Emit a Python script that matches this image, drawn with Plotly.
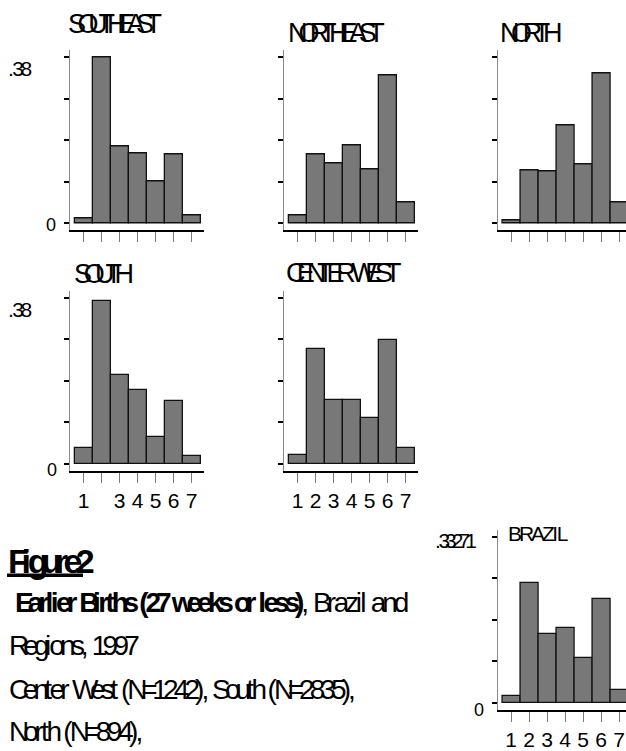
import plotly.graph_objects as go

# ---- data: share of earlier births by week-of-gestation class ----
weeks = [1, 2, 3, 4, 5, 6, 7]
week_labels = ["1", "2", "3", "4", "5", "6", "7"]
south_week_labels = ["1", "", "3", "4", "5", "6", "7"]
blank_labels = ["", "", "", "", "", "", ""]

southeast = [0.012, 0.380, 0.176, 0.160, 0.095, 0.158, 0.019]
northeast = [0.019, 0.158, 0.138, 0.178, 0.124, 0.338, 0.048]
north = [0.0075, 0.122, 0.119, 0.225, 0.136, 0.344, 0.047]
south = [0.036, 0.372, 0.203, 0.169, 0.062, 0.143, 0.018]
centerwest = [0.020, 0.262, 0.147, 0.147, 0.105, 0.283, 0.036]
brazil = [0.0139, 0.2395, 0.1375, 0.1508, 0.0893, 0.2083, 0.0264]

region_max = 0.38
brazil_max = 0.33271
region_top_label = ".38"
brazil_top_label = ".33271"

W, H = 626, 751
FONT = "Liberation Sans, Arial, sans-serif"
BAR_FILL = "#787878"

# Arial / Liberation Sans advance widths (1/1000 em), used to squeeze text
_REG = {" ": 278, ".": 278, ",": 278, "(": 333, ")": 333, "=": 584,
        "A": 667, "B": 667, "C": 722, "D": 722, "E": 667, "F": 611, "G": 778,
        "H": 722, "I": 278, "L": 556, "N": 722, "O": 778, "R": 722, "S": 667,
        "T": 611, "U": 722, "W": 944, "Z": 611,
        "a": 556, "d": 556, "e": 556, "g": 556, "h": 556, "i": 222, "k": 500,
        "l": 222, "n": 556, "o": 556, "r": 333, "s": 500, "t": 278, "u": 556,
        "w": 722, "z": 500}
_BOLD = {" ": 278, "(": 333, ")": 333, "B": 722, "E": 667, "F": 611,
         "a": 556, "e": 556, "g": 611, "h": 611, "i": 278, "k": 556, "l": 278,
         "o": 611, "r": 389, "s": 556, "t": 333, "u": 611, "w": 778}


def px_x(p):
    return p / W


def px_y(p):
    return 1 - p / H


def squeeze(text, size, width, bold=False):
    """Tighten glyph advances proportionally so the run spans `width` px."""
    table = _BOLD if bold else _REG
    adv = [table.get(c, 556) * size / 1000 for c in text]
    k = width / sum(adv)
    out = "".join(
        f"<span style='letter-spacing:{a * (k - 1):.2f}px'>{c}</span>"
        for c, a in zip(text, adv)
    )
    return f"<b>{out}</b>" if bold else out


# panel geometry in screen pixels (left, right, top, bottom)
panels = [
    dict(title="SOUTHEAST", vals=southeast, ymax=region_max, box=(70, 204, 51, 233),
         xt=blank_labels, title_xy=(67, 24), title_w=86, title_size=27),
    dict(title="NORTHEAST", vals=northeast, ymax=region_max, box=(284, 418, 51, 233),
         xt=blank_labels, title_xy=(287, 33), title_w=89, title_size=27),
    dict(title="NORTH", vals=north, ymax=region_max, box=(497.7, 626, 51, 233),
         xt=blank_labels, title_xy=(499, 33), title_w=54, title_size=27),
    dict(title="SOUTH", vals=south, ymax=region_max, box=(70, 204, 294.5, 476.5),
         xt=south_week_labels, title_xy=(73, 277), title_w=51, title_size=27),
    dict(title="CENTER WEST", vals=centerwest, ymax=region_max, box=(284, 418, 294.5, 476.5),
         xt=week_labels, title_xy=(285, 276.5), title_w=108, title_size=27),
    dict(title="BRAZIL", vals=brazil, ymax=brazil_max, box=(497.7, 626, 536.5, 718.5),
         xt=week_labels, title_xy=(507, 540), title_w=58, title_size=21),
]

fig = go.Figure()
annotations = []
PX_PER_WEEK = 18.0

for i, p in enumerate(panels, start=1):
    xa = "x" if i == 1 else f"x{i}"
    ya = "y" if i == 1 else f"y{i}"
    left, right, top, bottom = p["box"]
    fig.add_trace(go.Bar(
        x=weeks, y=p["vals"], width=1, xaxis=xa, yaxis=ya,
        marker=dict(color=BAR_FILL, line=dict(color="#111111", width=1.3)),
        showlegend=False, hoverinfo="x+y",
    ))
    # x scale: first bin centre sits 13.5 px right of the y axis
    x_lo = 1 - 13.5 / PX_PER_WEEK
    x_hi = x_lo + (right - left) / PX_PER_WEEK
    # y scale: 168 px from 0 to the top tick, 7 px padding on both ends
    ymax = p["ymax"]
    pad = 7 / 168 * ymax
    yticks = [0, ymax / 4, ymax / 2, 3 * ymax / 4, ymax]

    xkey = "xaxis" if i == 1 else f"xaxis{i}"
    ykey = "yaxis" if i == 1 else f"yaxis{i}"
    fig.update_layout(**{
        xkey: dict(
            domain=[px_x(left), px_x(right)], anchor=ya, range=[x_lo, x_hi],
            showline=True, linecolor="#000000", linewidth=1.6,
            ticks="outside", ticklen=10, tickwidth=1.3, tickcolor="#7a7a7a",
            tickvals=weeks, ticktext=p["xt"],
            tickfont=dict(family=FONT, size=21, color="#000000"),
            showgrid=False, zeroline=False, fixedrange=True,
        ),
        ykey: dict(
            domain=[px_y(bottom), px_y(top)], anchor=xa, range=[-pad, ymax + pad],
            showline=True, linecolor="#8a8a8a", linewidth=1.3,
            ticks="outside", ticklen=5, tickwidth=1.5, tickcolor="#000000",
            tickvals=yticks, showticklabels=False,
            showgrid=False, zeroline=False, fixedrange=True,
        ),
    })
    tx, ty = p["title_xy"]
    annotations.append(dict(
        text=squeeze(p["title"], p["title_size"], p["title_w"]),
        xref="paper", yref="paper", x=px_x(tx), y=px_y(ty),
        xanchor="left", yanchor="middle", showarrow=False, borderpad=0,
        font=dict(family=FONT, size=p["title_size"], color="#000000"),
    ))

# y-axis value labels (first column and the Brazil panel only)
ylabels = [
    ("y", region_top_label, region_max, 33, -11, 21, 21),
    ("y", "0", 0, 57, -2, 18, None),
    ("y4", region_top_label, region_max, 33, -11.5, 21, 21),
    ("y4", "0", 0, 58, -6, 18, None),
    ("y6", brazil_top_label, brazil_max, 477, -4, 21, 37),
    ("y6", "0", 0, 485, -7, 18, None),
]
for yref, txt, val, xr, shift, size, w in ylabels:
    annotations.append(dict(
        text=squeeze(txt, size, w) if w else txt, xref="paper", yref=yref,
        x=px_x(xr), y=val, xanchor="right", yanchor="middle", yshift=shift,
        showarrow=False, borderpad=0,
        font=dict(family=FONT, size=size, color="#000000"),
    ))

# figure caption
caption = [
    (squeeze("Figure2", 34, 80, bold=True), 7, 568, 34),
    (squeeze("Earlier Births (27 weeks or less)", 28, 286, bold=True)
     + squeeze(", Brazil and", 28, 104), 14, 610, 28),
    (squeeze("Regions, 1997", 28, 126), 8, 653, 28),
    (squeeze("Center West (N=1242), South (N=2835),", 28, 344), 8, 698, 28),
    (squeeze("North (N=894),", 28, 132), 8, 740, 28),
]
for txt, x, y, size in caption:
    annotations.append(dict(
        text=txt, xref="paper", yref="paper", x=px_x(x), y=px_y(y),
        xanchor="left", yanchor="middle", showarrow=False, borderpad=0,
        font=dict(family=FONT, size=size, color="#000000"),
    ))

fig.update_layout(
    width=W, height=H, margin=dict(l=0, r=0, t=0, b=0),
    paper_bgcolor="#ffffff", plot_bgcolor="#ffffff",
    bargap=0, annotations=annotations,
    font=dict(family=FONT, color="#000000"),
    # underline under the figure label
    shapes=[dict(type="line", xref="paper", yref="paper",
                 x0=px_x(7), x1=px_x(83), y0=px_y(582.3), y1=px_y(582.3),
                 line=dict(color="#000000", width=3.5))],
)

fig.write_html("out.html")
